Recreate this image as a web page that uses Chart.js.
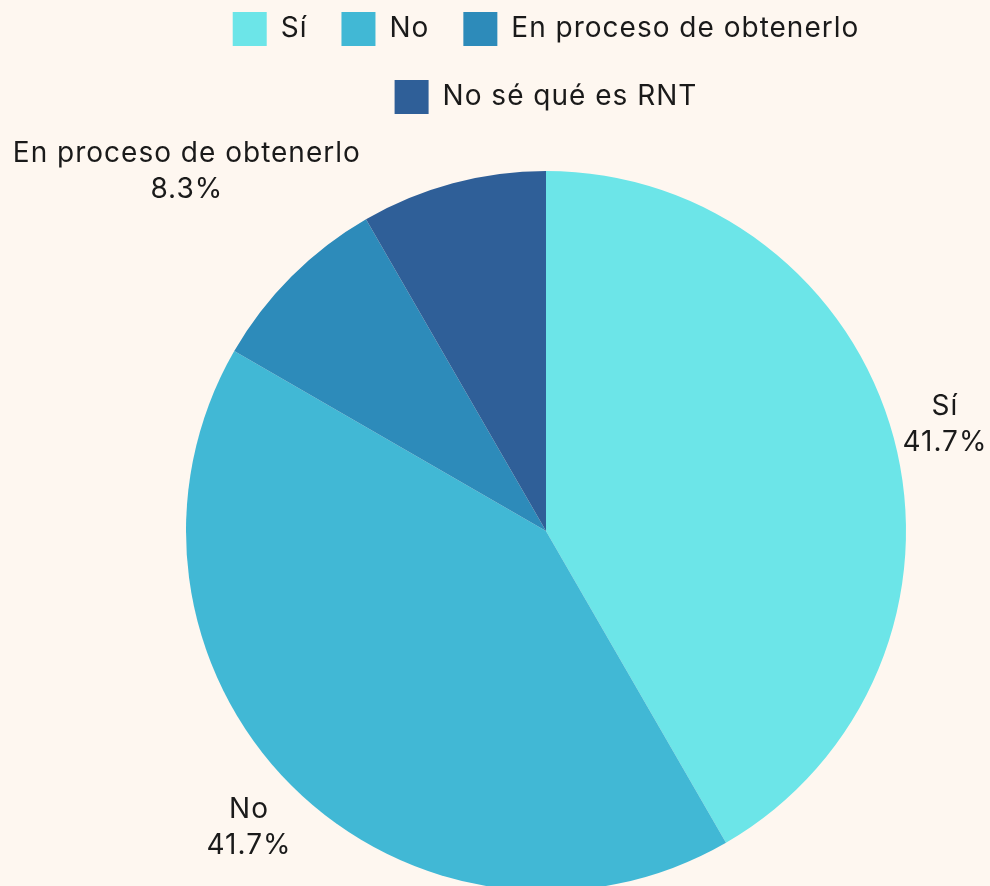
<!DOCTYPE html>
<html>
<head>
<meta charset="utf-8">
<script src="https://cdn.jsdelivr.net/npm/chart.js@4/dist/chart.umd.min.js"></script>
<style>
  html, body { margin: 0; padding: 0; background: #fef7f0; }
  #wrap { width: 990px; height: 886px; }
</style>
</head>
<body>
<div id="wrap"><canvas id="rntChart" width="990" height="886"></canvas></div>
<script>
// datos
const categorias = ['Sí', 'No', 'En proceso de obtenerlo', 'No sé qué es RNT'];
const respuestas = [5, 5, 1, 1];
const colores = ['#6ce5e8', '#41b8d5', '#2d8bba', '#2f5f98'];

const FONT = 'Inter, "Open Sans", sans-serif';
const TAM = 28;
const ESPACIADO = '1px'; // la fuente del original es mas ancha

// el canvas se reinicia al crear el grafico, asi que se fija aqui
const espaciadoPlugin = {
    id: 'espaciado',
    beforeUpdate(chart) { chart.ctx.letterSpacing = ESPACIADO; },
    beforeDraw(chart) { chart.ctx.letterSpacing = ESPACIADO; }
};

// etiquetas fuera del pastel (la ultima no se muestra en el original)
const etiquetasPlugin = {
    id: 'etiquetas',
    afterDatasetsDraw(chart, args, opts) {
        const ctx = chart.ctx;
        const meta = chart.getDatasetMeta(0);
        const data = chart.data.datasets[0].data;
        const total = data.reduce((a, b) => a + b, 0);
        ctx.save();
        ctx.letterSpacing = ESPACIADO;
        ctx.font = TAM + 'px ' + FONT;
        ctx.fillStyle = '#1a1a1a';
        ctx.textAlign = 'center';
        ctx.textBaseline = 'middle';
        meta.data.forEach((arc, i) => {
            const extra = opts.distancias[i];
            if (extra == null) return;
            const p = arc.getProps(['x', 'y', 'startAngle', 'endAngle', 'outerRadius'], true);
            const mid = (p.startAngle + p.endAngle) / 2;
            const r = p.outerRadius + extra;
            const x = p.x + Math.cos(mid) * r;
            const y = p.y + Math.sin(mid) * r;
            const pct = (data[i] / total * 100).toFixed(1) + '%';
            ctx.fillText(chart.data.labels[i], x, y - 18);
            ctx.fillText(pct, x, y + 18);
        });
        ctx.restore();
    }
};

const ctx = document.getElementById('rntChart').getContext('2d');
new Chart(ctx,
{
    type: 'pie',
    data:
    {
        labels: categorias,
        datasets: [{
            data: respuestas,
            backgroundColor: colores,
            borderWidth: 0,
            radius: 360
        }]
    },
    options:
    {
        responsive: false,
        animation: false,
        layout: {
            padding: { left: 186, right: 84, top: -22, bottom: 0 }
        },
        plugins: {
            legend: {
                display: true,
                position: 'top',
                labels: {
                    boxWidth: 34,
                    boxHeight: 34,
                    padding: 34,
                    color: '#1a1a1a',
                    font: { size: TAM, family: FONT }
                }
            },
            // subtitulo vacio: solo deja espacio entre leyenda y pastel
            subtitle: {
                display: true,
                text: '',
                position: 'top',
                weight: 500,
                font: { size: 12 },
                padding: { top: 0, bottom: 37.6 }
            },
            tooltip: { enabled: false },
            etiquetas: { distancias: [53, 60, 148, null] }
        }
    },
    plugins: [espaciadoPlugin, etiquetasPlugin]
});
</script>
</body>
</html>
